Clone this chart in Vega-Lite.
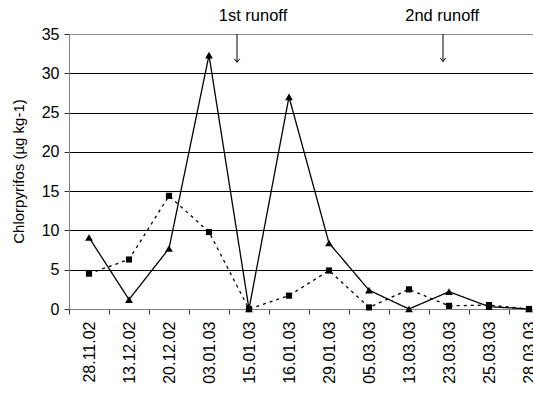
{
  "$schema": "https://vega.github.io/schema/vega-lite/v6.json",
  "width": 464,
  "height": 275,
  "autosize": {"type": "none"},
  "padding": {"left": 69, "top": 34, "right": 0, "bottom": 87},
  "background": "white",
  "config": {
    "view": {"stroke": null},
    "font": "Liberation Sans",
    "axis": {"labelFont": "Liberation Sans", "titleFont": "Liberation Sans", "labelColor": "#000", "titleColor": "#000"},
    "axisY": {"labelOverlap": false, "titleFontSize": 15, "titleFontWeight": "normal", "titleAngle": -90, "titleX": -51, "titleY": 137, "titleAlign": "center", "titleBaseline": "middle", "labelFontSize": 16, "labelPadding": 5, "tickSize": 5, "tickColor": "#333", "domainColor": "#808080", "grid": true, "gridColor": {"condition": {"test": "datum.value === 35", "value": "#909090"}, "value": "#000"}, "gridWidth": 1}
  },
  "datasets": {
    "obs": [
      {"date": "28.11.02", "series": "A", "value": 9.1},
      {"date": "13.12.02", "series": "A", "value": 1.2},
      {"date": "20.12.02", "series": "A", "value": 7.7},
      {"date": "03.01.03", "series": "A", "value": 32.3},
      {"date": "15.01.03", "series": "A", "value": 0},
      {"date": "16.01.03", "series": "A", "value": 27.0},
      {"date": "29.01.03", "series": "A", "value": 8.4},
      {"date": "05.03.03", "series": "A", "value": 2.4},
      {"date": "13.03.03", "series": "A", "value": 0},
      {"date": "23.03.03", "series": "A", "value": 2.2},
      {"date": "25.03.03", "series": "A", "value": 0.3},
      {"date": "28.03.03", "series": "A", "value": 0},
      {"date": "28.11.02", "series": "B", "value": 4.5},
      {"date": "13.12.02", "series": "B", "value": 6.3},
      {"date": "20.12.02", "series": "B", "value": 14.4},
      {"date": "03.01.03", "series": "B", "value": 9.8},
      {"date": "15.01.03", "series": "B", "value": 0},
      {"date": "16.01.03", "series": "B", "value": 1.7},
      {"date": "29.01.03", "series": "B", "value": 4.9},
      {"date": "05.03.03", "series": "B", "value": 0.2},
      {"date": "13.03.03", "series": "B", "value": 2.5},
      {"date": "23.03.03", "series": "B", "value": 0.4},
      {"date": "25.03.03", "series": "B", "value": 0.5},
      {"date": "28.03.03", "series": "B", "value": 0}
    ],
    "notes": [
      {"label": "1st runoff", "textPos": 4.6, "arrowPos": 4.2, "textY": 37.3, "top": 35, "tip": 31.4},
      {"label": "2nd runoff", "textPos": 9.33, "arrowPos": 9.35, "textY": 37.3, "top": 35, "tip": 31.5}
    ]
  },
  "resolve": {"scale": {"x": "independent"}, "axis": {"x": "independent"}},
  "layer": [
    {
      "data": {"name": "obs"},
      "mark": {"type": "line", "color": "#000", "strokeWidth": 1.3},
      "encoding": {
        "x": {"field": "date", "type": "nominal", "sort": null,
          "scale": {"type": "band", "paddingInner": 0, "paddingOuter": 0, "range": [0, 480]},
          "axis": {"title": null, "labelAngle": -90, "labelAlign": "right", "labelBaseline": "middle", "labelFontSize": 16, "labelPadding": 7, "tickBand": "extent", "tickSize": 5, "tickColor": "#333", "domainColor": "#808080", "labelOverlap": false, "grid": false}},
        "y": {"field": "value", "type": "quantitative",
          "scale": {"domain": [0, 35], "nice": false, "zero": true},
          "axis": {"values": [0, 5, 10, 15, 20, 25, 30, 35], "title": "Chlorpyrifos (µg kg-1)"}},
        "strokeDash": {"field": "series", "type": "nominal", "scale": {"domain": ["A", "B"], "range": [[1, 0], [3, 4]]}, "legend": null},
        "detail": {"field": "series"}
      }
    },
    {
      "data": {"name": "obs"},
      "mark": {"type": "point", "filled": true, "color": "#000", "opacity": 1},
      "encoding": {
        "x": {"field": "date", "type": "nominal", "sort": null, "scale": {"type": "band", "paddingInner": 0, "paddingOuter": 0, "range": [0, 480]}, "axis": null},
        "y": {"field": "value", "type": "quantitative", "axis": {"values": [0, 5, 10, 15, 20, 25, 30, 35], "title": "Chlorpyrifos (µg kg-1)"}},
        "shape": {"field": "series", "type": "nominal", "scale": {"domain": ["A", "B"], "range": ["triangle-up", "square"]}, "legend": null},
        "size": {"field": "series", "type": "nominal", "scale": {"domain": ["A", "B"], "range": [60, 38]}, "legend": null}
      }
    },
    {
      "data": {"name": "notes"},
      "mark": {"type": "text", "fontSize": 16.5, "font": "Liberation Sans", "color": "#000", "align": "center", "baseline": "middle"},
      "encoding": {
        "x": {"field": "textPos", "type": "quantitative", "scale": {"domain": [0, 12], "range": [0, 480], "nice": false, "zero": false}, "axis": null},
        "y": {"field": "textY", "type": "quantitative", "axis": {"values": [0, 5, 10, 15, 20, 25, 30, 35], "title": "Chlorpyrifos (µg kg-1)"}},
        "text": {"field": "label"}
      }
    },
    {
      "data": {"name": "notes"},
      "mark": {"type": "rule", "color": "#000", "strokeWidth": 1},
      "encoding": {
        "x": {"field": "arrowPos", "type": "quantitative", "scale": {"domain": [0, 12], "range": [0, 480], "nice": false, "zero": false}, "axis": null},
        "y": {"field": "top", "type": "quantitative", "axis": {"values": [0, 5, 10, 15, 20, 25, 30, 35], "title": "Chlorpyrifos (µg kg-1)"}},
        "y2": {"field": "tip"}
      }
    },
    {
      "data": {"name": "notes"},
      "mark": {"type": "point", "filled": false, "color": "#000", "strokeWidth": 1, "opacity": 1, "shape": "M-1,-1.3L0,0L1,-1.3", "size": 30},
      "encoding": {
        "x": {"field": "arrowPos", "type": "quantitative", "scale": {"domain": [0, 12], "range": [0, 480], "nice": false, "zero": false}, "axis": null},
        "y": {"field": "tip", "type": "quantitative", "axis": {"values": [0, 5, 10, 15, 20, 25, 30, 35], "title": "Chlorpyrifos (µg kg-1)"}}
      }
    }
  ]
}
